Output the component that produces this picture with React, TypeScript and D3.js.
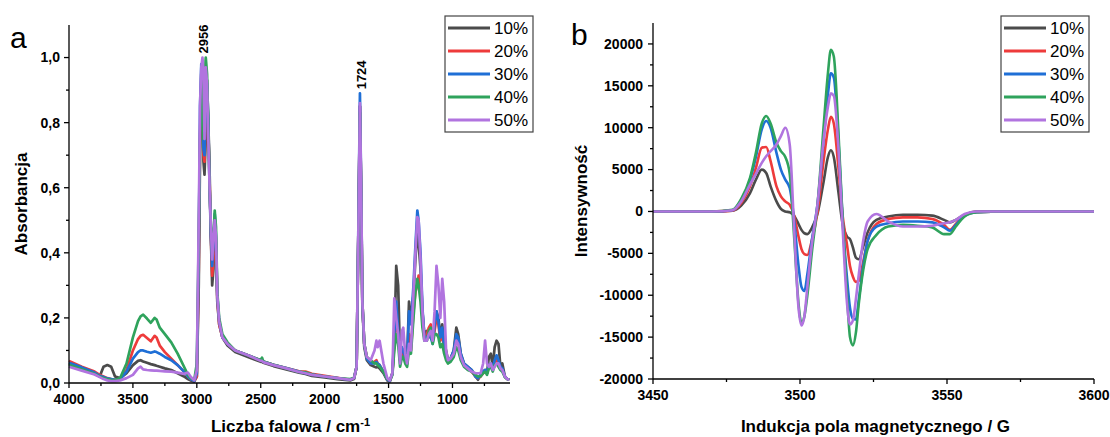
import React from 'react';
import * as d3 from 'd3';

const W = 1110;
const H = 437;
const FONT = '"Liberation Sans", Arial, sans-serif';

// series
const seriesNames = ['10%', '20%', '30%', '40%', '50%'];
const seriesColors = ['#4b4b4b', '#ee3b3b', '#1f6fd6', '#2fa35c', '#b174df'];

// FTIR: wavenumber grid (cm-1)
const irWave = [
  4000, 3900, 3800, 3760, 3730, 3700, 3670, 3640, 3600, 3550,
  3500, 3460, 3440, 3420, 3390, 3360, 3330, 3315, 3290, 3250,
  3200, 3150, 3100, 3070, 3050, 3020, 3000, 2985, 2975, 2965,
  2956, 2948, 2940, 2930, 2920, 2910, 2900, 2890, 2880, 2870,
  2860, 2850, 2840, 2825, 2800, 2760, 2700, 2600, 2500, 2490,
  2480, 2400, 2300, 2200, 2150, 2100, 2000, 1900, 1800, 1770,
  1750, 1735, 1724, 1715, 1705, 1690, 1670, 1640, 1610, 1595,
  1585, 1570, 1540, 1510, 1490, 1470, 1455, 1440, 1425, 1410,
  1395, 1385, 1370, 1355, 1340, 1325, 1305, 1290, 1275, 1265,
  1250, 1235, 1220, 1200, 1185, 1170, 1155, 1140, 1125, 1110,
  1095, 1080, 1065, 1050, 1035, 1015, 990, 970, 955, 935,
  910, 880, 850, 820, 800, 780, 760, 745, 730, 715,
  700, 685, 670, 655, 640, 625, 610, 590, 570, 555,
];

const ir10 = [
  0.060, 0.045, 0.030, 0.020, 0.050, 0.055, 0.050, 0.020, 0.015, 0.030,
  0.055, 0.068, 0.070, 0.066, 0.062, 0.058, 0.055, 0.053, 0.050, 0.045,
  0.040, 0.030, 0.020, 0.012, 0.008, 0.005, 0.020, 0.300, 0.700, 0.900,
  0.950, 0.680, 0.640, 0.750, 0.930, 0.800, 0.650, 0.450, 0.300, 0.350,
  0.480, 0.420, 0.250, 0.180, 0.140, 0.115, 0.095, 0.080, 0.065, 0.066,
  0.062, 0.052, 0.042, 0.032, 0.028, 0.022, 0.017, 0.012, 0.008, 0.012,
  0.050, 0.500, 0.850, 0.600, 0.240, 0.110, 0.070, 0.055, 0.050, 0.048,
  0.050, 0.045, 0.030, 0.008, 0.005, 0.030, 0.120, 0.360, 0.300, 0.080,
  0.100, 0.100, 0.080, 0.070, 0.250, 0.200, 0.270, 0.380, 0.470, 0.430,
  0.350, 0.220, 0.150, 0.160, 0.140, 0.160, 0.130, 0.180, 0.220, 0.200,
  0.140, 0.180, 0.120, 0.100, 0.070, 0.075, 0.100, 0.170, 0.150, 0.090,
  0.060, 0.050, 0.040, 0.020, 0.010, 0.025, 0.035, 0.040, 0.030, 0.080,
  0.090, 0.050, 0.110, 0.130, 0.120, 0.050, 0.060, 0.020, 0.012, 0.010,
];
const ir20 = [
  0.068, 0.050, 0.035, 0.025, 0.020, 0.015, 0.012, 0.010, 0.012, 0.040,
  0.100, 0.135, 0.145, 0.148, 0.138, 0.128, 0.145, 0.140, 0.115, 0.095,
  0.075, 0.055, 0.035, 0.020, 0.012, 0.006, 0.020, 0.350, 0.750, 0.950,
  0.980, 0.700, 0.680, 0.800, 0.900, 0.780, 0.620, 0.450, 0.330, 0.380,
  0.500, 0.440, 0.260, 0.180, 0.140, 0.120, 0.100, 0.085, 0.070, 0.071,
  0.066, 0.056, 0.046, 0.036, 0.035, 0.028, 0.022, 0.016, 0.010, 0.015,
  0.050, 0.500, 0.850, 0.600, 0.250, 0.120, 0.080, 0.060, 0.065, 0.070,
  0.060, 0.055, 0.035, 0.010, 0.006, 0.030, 0.130, 0.200, 0.150, 0.070,
  0.100, 0.090, 0.080, 0.060, 0.150, 0.100, 0.220, 0.280, 0.300, 0.330,
  0.280, 0.200, 0.140, 0.150, 0.170, 0.180, 0.130, 0.160, 0.200, 0.180,
  0.130, 0.150, 0.110, 0.090, 0.070, 0.070, 0.090, 0.140, 0.130, 0.080,
  0.055, 0.045, 0.035, 0.020, 0.015, 0.020, 0.030, 0.035, 0.030, 0.050,
  0.055, 0.040, 0.060, 0.070, 0.060, 0.045, 0.040, 0.020, 0.012, 0.010,
];
const ir30 = [
  0.062, 0.048, 0.032, 0.022, 0.018, 0.014, 0.012, 0.010, 0.012, 0.035,
  0.075, 0.095, 0.100, 0.100, 0.096, 0.093, 0.097, 0.095, 0.090, 0.080,
  0.070, 0.055, 0.035, 0.020, 0.012, 0.006, 0.030, 0.400, 0.850, 0.980,
  0.970, 0.720, 0.700, 0.850, 0.920, 0.800, 0.600, 0.450, 0.360, 0.420,
  0.520, 0.450, 0.270, 0.190, 0.140, 0.120, 0.100, 0.085, 0.070, 0.070,
  0.066, 0.056, 0.046, 0.035, 0.030, 0.026, 0.020, 0.015, 0.010, 0.015,
  0.050, 0.520, 0.890, 0.620, 0.250, 0.120, 0.075, 0.060, 0.060, 0.065,
  0.060, 0.055, 0.035, 0.010, 0.006, 0.030, 0.150, 0.250, 0.160, 0.070,
  0.110, 0.100, 0.080, 0.060, 0.220, 0.180, 0.300, 0.420, 0.530, 0.500,
  0.400, 0.230, 0.140, 0.140, 0.150, 0.140, 0.120, 0.180, 0.220, 0.190,
  0.140, 0.170, 0.110, 0.090, 0.070, 0.075, 0.100, 0.150, 0.140, 0.090,
  0.060, 0.050, 0.040, 0.020, 0.015, 0.025, 0.035, 0.040, 0.030, 0.055,
  0.060, 0.045, 0.070, 0.085, 0.070, 0.050, 0.045, 0.020, 0.012, 0.010,
];
const ir40 = [
  0.056, 0.042, 0.028, 0.020, 0.015, 0.012, 0.010, 0.009, 0.015, 0.060,
  0.140, 0.190, 0.205, 0.210, 0.198, 0.185, 0.200, 0.195, 0.170, 0.150,
  0.125, 0.090, 0.050, 0.025, 0.015, 0.010, 0.060, 0.450, 0.740, 0.900,
  0.950, 0.750, 0.930, 1.000, 0.950, 0.780, 0.600, 0.480, 0.400, 0.450,
  0.530, 0.480, 0.280, 0.200, 0.150, 0.125, 0.100, 0.085, 0.070, 0.078,
  0.066, 0.056, 0.045, 0.034, 0.033, 0.026, 0.020, 0.015, 0.012, 0.016,
  0.050, 0.480, 0.830, 0.600, 0.250, 0.120, 0.080, 0.070, 0.060, 0.060,
  0.055, 0.050, 0.035, 0.012, 0.008, 0.025, 0.100, 0.150, 0.120, 0.050,
  0.080, 0.080, 0.060, 0.050, 0.100, 0.090, 0.200, 0.280, 0.320, 0.300,
  0.250, 0.170, 0.130, 0.130, 0.160, 0.170, 0.120, 0.150, 0.150, 0.140,
  0.110, 0.120, 0.090, 0.070, 0.060, 0.065, 0.080, 0.110, 0.100, 0.070,
  0.050, 0.040, 0.035, 0.025, 0.020, 0.020, 0.030, 0.035, 0.025, 0.045,
  0.050, 0.035, 0.055, 0.060, 0.050, 0.040, 0.035, 0.018, 0.012, 0.010,
];
const ir50 = [
  0.050, 0.038, 0.026, 0.018, 0.012, 0.008, 0.006, 0.006, 0.008, 0.015,
  0.025, 0.045, 0.050, 0.042, 0.040, 0.039, 0.038, 0.038, 0.037, 0.036,
  0.035, 0.032, 0.028, 0.032, 0.020, 0.008, 0.040, 0.500, 0.850, 0.970,
  1.000, 0.960, 0.750, 0.970, 0.920, 0.750, 0.600, 0.480, 0.380, 0.440,
  0.500, 0.450, 0.270, 0.190, 0.140, 0.120, 0.100, 0.085, 0.068, 0.068,
  0.064, 0.055, 0.045, 0.034, 0.030, 0.025, 0.020, 0.015, 0.010, 0.015,
  0.050, 0.500, 0.860, 0.620, 0.250, 0.120, 0.080, 0.070, 0.100, 0.130,
  0.110, 0.130, 0.060, 0.015, 0.008, 0.030, 0.260, 0.200, 0.150, 0.060,
  0.160, 0.170, 0.090, 0.060, 0.120, 0.100, 0.280, 0.400, 0.510, 0.500,
  0.380, 0.220, 0.130, 0.130, 0.150, 0.160, 0.130, 0.220, 0.360, 0.300,
  0.200, 0.320, 0.250, 0.100, 0.070, 0.075, 0.090, 0.130, 0.120, 0.080,
  0.055, 0.045, 0.035, 0.030, 0.030, 0.030, 0.060, 0.130, 0.060, 0.050,
  0.060, 0.040, 0.050, 0.060, 0.060, 0.045, 0.040, 0.020, 0.012, 0.010,
];
const irSeries = [ir10, ir20, ir30, ir40, ir50];

const irTicks = [4000, 3500, 3000, 2500, 2000, 1500, 1000];
const absTicks = [0, 0.2, 0.4, 0.6, 0.8, 1.0];
const peakMarks = [2956, 1724];

// EPR: magnetic field grid (G)
const eprField = [
  3450, 3470, 3477, 3480, 3483, 3485, 3487, 3488.5, 3490, 3492,
  3493.5, 3495, 3496.5, 3498, 3499.5, 3500.5, 3501.5, 3502.5, 3504, 3506,
  3508, 3509.5, 3510.5, 3511.5, 3513, 3514.5, 3516, 3517, 3518, 3519,
  3520, 3521.5, 3523, 3526, 3530, 3535, 3540, 3545, 3549, 3551,
  3553, 3556, 3560, 3570, 3580, 3590, 3600,
];
const epr10 = [
  0, 0, 80, 700, 2200, 3800, 5000, 4600, 3000, 1200,
  300, 0, -100, -500, -1500, -2200, -2600, -2700, -2000, -200,
  3500, 6500, 7300, 6500, 2500, -1500, -3000, -3300, -4300, -5500,
  -5700, -4200, -2500, -1000, -600, -400, -400, -500, -1000, -1300,
  -1000, -400, 0, 0, 0, 0, 0,
];
const epr20 = [
  0, 0, 100, 1000, 3000, 5200, 7600, 7700, 6000, 3000,
  1800, 1200, 800, -500, -3000, -4500, -5100, -5200, -3500, 0,
  6000, 9800, 11300, 10500, 5500, -500, -4000, -6500, -7800, -8400,
  -8300, -6000, -3500, -1500, -900, -700, -700, -900, -1600, -2200,
  -1500, -400, -100, 0, 0, 0, 0,
];
const epr30 = [
  0, 0, 150, 1300, 3800, 6500, 9800, 10800, 10000, 7000,
  5000, 3800, 2800, -1000, -6500, -9000, -9500, -7500, -3500, 1000,
  8500, 14000, 16500, 16000, 9000, -1000, -8000, -11500, -12800, -12900,
  -10500, -6500, -3500, -1800, -1400, -1200, -1200, -1300, -1900, -2300,
  -1600, -500, -100, 0, 0, 0, 0,
];
const epr40 = [
  0, 0, 200, 1500, 4000, 7000, 10500, 11400, 10500, 8200,
  7200, 6500, 4500, -3000, -11000, -13300, -12500, -10000, -5000, 1000,
  10000, 16500, 19300, 18500, 10000, -1000, -10000, -15000, -16000, -14500,
  -11000, -7000, -4500, -2800, -1800, -1600, -1700, -1900, -2700, -2700,
  -1800, -600, -100, 0, 0, 0, 0,
];
const epr50 = [
  0, 0, 150, 1200, 3200, 4500, 5800, 6600, 7200, 8000,
  9000, 10000, 8000, -2000, -11500, -13600, -12500, -9000, -4000, 1000,
  8500, 12500, 14100, 13800, 8000, -2000, -11000, -13500, -13000, -10500,
  -7500, -3500, -1200, -300, -1200, -1800, -1800, -1700, -1400, -1300,
  -1000, -300, 0, 0, 0, 0, 0,
];
const eprSeries = [epr10, epr20, epr30, epr40, epr50];

const fieldTicks = [3450, 3500, 3550, 3600];
const intTicks = [-20000, -15000, -10000, -5000, 0, 5000, 10000, 15000, 20000];

// layout
const irBox = { left: 69, right: 510, top: 25, bottom: 383 };
const eprBox = { left: 653, right: 1094, top: 23, bottom: 379 };

const xIr = d3.scaleLinear().domain([4000, 550]).range([irBox.left, irBox.right]);
const yIr = d3.scaleLinear().domain([0, 1.1]).range([irBox.bottom, irBox.top]);
const xEpr = d3.scaleLinear().domain([3450, 3600]).range([eprBox.left, eprBox.right]);
const yEpr = d3.scaleLinear().domain([-20000, 22500]).range([eprBox.bottom, eprBox.top]);

const fmtAbs = (v: number) => d3.format('.1f')(v).replace('.', ',');

const Legend = ({ x, y }: { x: number; y: number }) => (
  <g>
    <rect x={x} y={y} width={88} height={116} fill="#fff" stroke="#444" strokeWidth={1.2} />
    {seriesNames.map((n, i) => (
      <g key={n}>
        <line x1={x + 3} x2={x + 45} y1={y + 12 + i * 23} y2={y + 12 + i * 23}
          stroke={seriesColors[i]} strokeWidth={3} />
        <text x={x + 49} y={y + 12 + i * 23} dy="0.35em" fontSize={17} fill="#000">{n}</text>
      </g>
    ))}
  </g>
);

const App = () => {
  const irLine = d3.line<number>()
    .x((_, i) => xIr(irWave[i]))
    .y((d) => yIr(d));
  const eprLine = d3.line<number>()
    .curve(d3.curveMonotoneX)
    .x((_, i) => xEpr(eprField[i]))
    .y((d) => yEpr(d));

  const irMinor = d3.range(4000, 549, -250).filter((v) => v % 500 !== 0);
  const absMinor = d3.range(0.1, 1.1, 0.2);
  const fieldMinor = [3475, 3525, 3575];
  const intMinor = d3.range(-17500, 22500, 5000);

  return (
    <svg width={W} height={H} style={{ position: 'absolute', left: 0, top: 0, display: 'block' }}
      fontFamily={FONT}>
      <rect width={W} height={H} fill="#fff" />

      {/* panel a: FTIR */}
      <text x={10} y={48} fontSize={30}>a</text>
      <g>
        {irSeries.map((s, i) => (
          <path key={i} d={irLine(s) || ''} fill="none" stroke={seriesColors[i]}
            strokeWidth={2.7} strokeLinejoin="round" />
        ))}
      </g>
      {peakMarks.map((w) => {
        const idx = irWave.indexOf(w);
        const top = d3.max(irSeries, (s) => s[idx]) || 0;
        return (
          <text key={w} transform={`translate(${xIr(w) + 6},${yIr(top) - 4}) rotate(-90)`}
            fontSize={13} fontWeight="bold">{w}</text>
        );
      })}
      <g stroke="#000" strokeWidth={1.3}>
        <line x1={irBox.left} x2={irBox.left} y1={irBox.top} y2={irBox.bottom} />
        <line x1={irBox.left} x2={irBox.right} y1={irBox.bottom} y2={irBox.bottom} />
        {irTicks.map((t) => (
          <line key={t} x1={xIr(t)} x2={xIr(t)} y1={irBox.bottom} y2={irBox.bottom + 5} />
        ))}
        {irMinor.map((t) => (
          <line key={t} x1={xIr(t)} x2={xIr(t)} y1={irBox.bottom} y2={irBox.bottom + 3} />
        ))}
        {absTicks.map((t) => (
          <line key={t} x1={irBox.left - 5} x2={irBox.left} y1={yIr(t)} y2={yIr(t)} />
        ))}
        {absMinor.map((t) => (
          <line key={t} x1={irBox.left - 3} x2={irBox.left} y1={yIr(t)} y2={yIr(t)} />
        ))}
      </g>
      <g fontSize={14} fontWeight="bold">
        {irTicks.map((t) => (
          <text key={t} x={xIr(t)} y={irBox.bottom + 21} textAnchor="middle">{t}</text>
        ))}
        {absTicks.map((t) => (
          <text key={t} x={irBox.left - 9} y={yIr(t)} dy="0.35em" textAnchor="end">{fmtAbs(t)}</text>
        ))}
      </g>
      <text x={(irBox.left + irBox.right) / 2 + 1} y={432} textAnchor="middle" fontSize={17} fontWeight="bold">
        Liczba falowa / cm<tspan dy={-6} fontSize={11}>-1</tspan>
      </text>
      <text transform={`translate(27,${(irBox.top + irBox.bottom) / 2}) rotate(-90)`} textAnchor="middle"
        fontSize={17} fontWeight="bold">Absorbancja</text>
      <Legend x={445} y={16} />

      {/* panel b: EPR */}
      <text x={571} y={45} fontSize={30}>b</text>
      <g>
        {eprSeries.map((s, i) => (
          <path key={i} d={eprLine(s) || ''} fill="none" stroke={seriesColors[i]}
            strokeWidth={2.6} strokeLinejoin="round" />
        ))}
      </g>
      <g stroke="#000" strokeWidth={1.3}>
        <line x1={eprBox.left} x2={eprBox.left} y1={eprBox.top} y2={eprBox.bottom} />
        <line x1={eprBox.left} x2={eprBox.right} y1={eprBox.bottom} y2={eprBox.bottom} />
        {fieldTicks.map((t) => (
          <line key={t} x1={xEpr(t)} x2={xEpr(t)} y1={eprBox.bottom} y2={eprBox.bottom + 5} />
        ))}
        {fieldMinor.map((t) => (
          <line key={t} x1={xEpr(t)} x2={xEpr(t)} y1={eprBox.bottom} y2={eprBox.bottom + 3} />
        ))}
        {intTicks.map((t) => (
          <line key={t} x1={eprBox.left - 5} x2={eprBox.left} y1={yEpr(t)} y2={yEpr(t)} />
        ))}
        {intMinor.map((t) => (
          <line key={t} x1={eprBox.left - 3} x2={eprBox.left} y1={yEpr(t)} y2={yEpr(t)} />
        ))}
      </g>
      <g fontSize={14} fontWeight="bold">
        {fieldTicks.map((t) => (
          <text key={t} x={xEpr(t)} y={eprBox.bottom + 21} textAnchor="middle">{t}</text>
        ))}
        {intTicks.map((t) => (
          <text key={t} x={eprBox.left - 10} y={yEpr(t)} dy="0.35em" textAnchor="end">{t}</text>
        ))}
      </g>
      <text x={(eprBox.left + eprBox.right) / 2 + 2} y={432} textAnchor="middle" fontSize={17} fontWeight="bold">
        Indukcja pola magnetycznego / G
      </text>
      <text transform={`translate(587,${(eprBox.top + eprBox.bottom) / 2}) rotate(-90)`} textAnchor="middle"
        fontSize={17} fontWeight="bold">Intensywność</text>
      <Legend x={1001} y={16} />
    </svg>
  );
};

export default App;
